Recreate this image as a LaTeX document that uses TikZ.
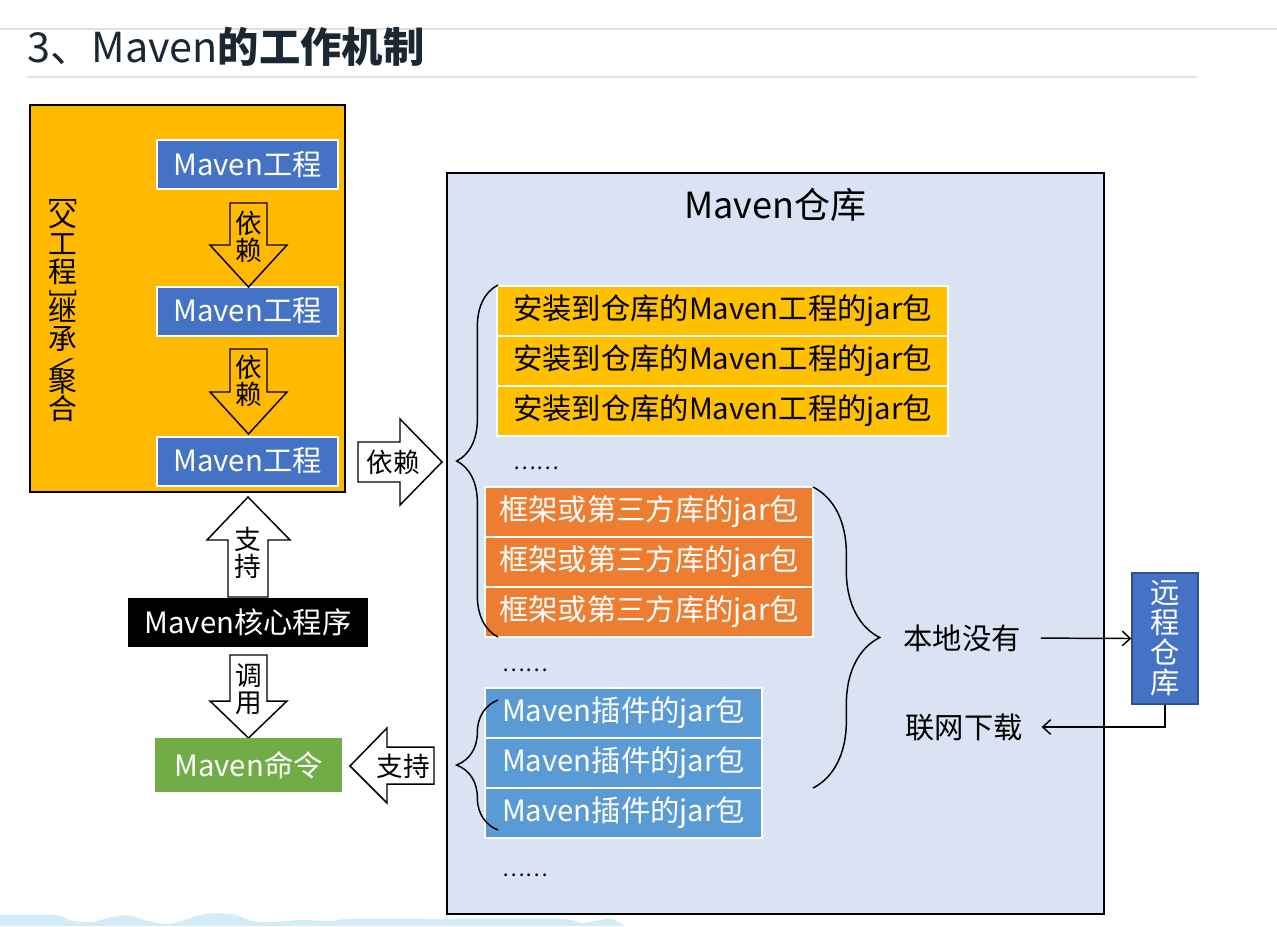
\documentclass[tikz,border=0pt]{standalone}
\usepackage{fontspec}
\setmainfont{Noto Sans CJK SC}
\usetikzlibrary{decorations.pathreplacing,arrows.meta,positioning,calc}
\definecolor{gold}{HTML}{FFB900}
\definecolor{ybox}{HTML}{FFC000}
\definecolor{obox}{HTML}{ED7D31}
\definecolor{bbox}{HTML}{4472C4}
\definecolor{pbox}{HTML}{5B9BD5}
\definecolor{gbox}{HTML}{70AD47}
\definecolor{repo}{HTML}{DAE3F3}
\definecolor{titlec}{HTML}{1B2733}
\definecolor{wave}{HTML}{D2ECF8}
\begin{document}
\begin{tikzpicture}[x=0.75pt,y=-0.75pt,
  every node/.style={inner sep=0pt},
  box/.style={draw=white, line width=1.5pt, text=white, font=\fontsize{22}{24}\selectfont, align=center},
  blockarrow/.style={draw=black, line width=1.1pt, line join=miter},
  arrtext/.style={font=\fontsize{20}{20.5}\selectfont, align=center},
  lbl/.style={font=\fontsize{22}{24}\selectfont},
  vchar/.style={font=\fontsize{21.5}{21.5}\selectfont, text height=15.2pt, text depth=5.3pt},
  mybrace/.style={decorate, decoration={brace, amplitude=#1}, line width=1.1pt},
  thinarrow/.style={line width=1.1pt, -{Straight Barb[length=6pt,width=11pt]}},
]
\useasboundingbox (0,0) rectangle (1277,926);
\fill[white] (0,0) rectangle (1277,926);

% header lines and title
\draw[black!12, line width=1pt] (0,29) -- (1277,29);
\draw[black!10, line width=1pt] (27,77) -- (1197,77);
\node[anchor=base west, text=titlec, font=\fontsize{31}{33}\selectfont] (title) at (27,62) {3、Maven{\bfseries 的工作机制}};

% bottom wave
\fill[wave] plot[smooth] coordinates {(0,915) (55,915) (72,921) (92,922) (112,917) (130,915.5) (148,921) (168,924) (188,919) (205,914) (232,914) (252,921) (275,922) (300,920) (330,921) (350,919) (440,919) (560,919) (580,923) (600,920) (612,919) (625,926)} -- (0,926) -- cycle;

% parent project box
\node[draw=black, fill=gold, line width=1.9pt, minimum width=236.25pt, minimum height=290.25pt] (parent) at (187.5,298.5) {};
\node[box, fill=bbox, minimum width=135.75pt, minimum height=36.75pt] (mp1) at (247.5,164.5) {Maven工程};
\node[box, fill=bbox, minimum width=135.75pt, minimum height=36.75pt] (mp2) at (247.5,311) {Maven工程};
\node[box, fill=bbox, minimum width=135.75pt, minimum height=36.75pt] (mp3) at (247.5,461) {Maven工程};

% vertical label
\node[font=\fontsize{21}{21}\selectfont, anchor=north] (v0) at (63,196) {\rotatebox{-90}{[}};
\node[vchar, below=0pt of v0] (v1) {父};
\node[vchar, below=0pt of v1] (v2) {工};
\node[vchar, below=0pt of v2] (v3) {程};
\node[font=\fontsize{21}{21}\selectfont, below=0pt of v3] (v4) {\rotatebox{-90}{]}};
\node[vchar, below=1pt of v4] (v5) {继};
\node[vchar, below=0pt of v5] (v6) {承};
\node[font=\fontsize{21}{21}\selectfont] (v7) at ($(v6.south)+(0,7)$) {\scalebox{2.2}[0.35]{/}};
\node[vchar, anchor=north] (v8) at ($(v6.south)+(0,14)$) {聚};
\node[vchar, below=0pt of v8] (v9) {合};

% dependency arrows inside parent
\draw[blockarrow, fill=gold] (230,203) -- (230,245) -- (210,245) -- (248.5,287) -- (287,245) -- (267,245) -- (267,203) -- cycle;
\node[arrtext] (d1) at (248.5,237) {依\\赖};
\draw[blockarrow, fill=gold] (230,349) -- (230,392) -- (210,392) -- (248.5,434) -- (287,392) -- (267,392) -- (267,349) -- cycle;
\node[arrtext] (d2) at (248.5,381) {依\\赖};

% core, support, call
\draw[blockarrow, fill=white] (228,597) -- (228,540) -- (207,540) -- (248,497) -- (290,540) -- (268,540) -- (268,597) -- cycle;
\node[arrtext] (s1) at (248,553) {支\\持};
\node[box, fill=black, draw=black, minimum width=178.5pt, minimum height=35.25pt] (core) at (248,622.5) {Maven核心程序};
\draw[blockarrow, fill=white] (230,655) -- (230,701) -- (210,701) -- (248.5,738) -- (287,701) -- (267,701) -- (267,655) -- cycle;
\node[arrtext] (c1) at (248.5,689) {调\\用};
\node[box, fill=gbox, draw=gbox, minimum width=138.75pt, minimum height=39pt] (cmd) at (248.5,765) {Maven命令};

% horizontal block arrows
\draw[blockarrow, fill=white] (358,442) -- (400,442) -- (400,419) -- (442,462) -- (400,505) -- (400,482) -- (358,482) -- cycle;
\node[arrtext] (d3) at (393,462) {依赖};
\draw[blockarrow, fill=white] (434,747) -- (387,747) -- (387,728) -- (350,766) -- (387,803) -- (387,784) -- (434,784) -- cycle;
\node[arrtext] (s2) at (403,766) {支持};

% repository
\node[draw=black, fill=repo, line width=1.9pt, minimum width=492.75pt, minimum height=555.75pt] (repo) at (775.5,543.5) {};
\node[font=\fontsize{27}{30}\selectfont] (repotitle) at (775,205) {Maven仓库};

\node[box, fill=ybox, text=black, minimum width=338.25pt, minimum height=37.5pt] (y1) at (722.5,311) {安装到仓库的Maven工程的jar包};
\node[box, fill=ybox, text=black, minimum width=338.25pt, minimum height=37.5pt] (y2) at (722.5,361) {安装到仓库的Maven工程的jar包};
\node[box, fill=ybox, text=black, minimum width=338.25pt, minimum height=37.5pt] (y3) at (722.5,411) {安装到仓库的Maven工程的jar包};
\node[font=\fontsize{16}{18}\selectfont] (dots1) at (536,468) {……};

\node[box, fill=obox, minimum width=246pt, minimum height=37.5pt] (o1) at (649,512) {框架或第三方库的jar包};
\node[box, fill=obox, minimum width=246pt, minimum height=37.5pt] (o2) at (649,562) {框架或第三方库的jar包};
\node[box, fill=obox, minimum width=246pt, minimum height=37.5pt] (o3) at (649,612) {框架或第三方库的jar包};
\node[font=\fontsize{16}{18}\selectfont] (dots2) at (525,670) {……};

\node[box, fill=pbox, minimum width=207.75pt, minimum height=37.5pt] (p1) at (623.5,713) {Maven插件的jar包};
\node[box, fill=pbox, minimum width=207.75pt, minimum height=37.5pt] (p2) at (623.5,763) {Maven插件的jar包};
\node[box, fill=pbox, minimum width=207.75pt, minimum height=37.5pt] (p3) at (623.5,813) {Maven插件的jar包};
\node[font=\fontsize{16}{18}\selectfont] (dots3) at (525,875) {……};

% braces
\draw[mybrace=31pt] (498,637) -- (498,285);
\draw[mybrace=31pt] (498,830) -- (498,700);
\draw[mybrace=50pt] (813,487) -- (813,788);

% remote repository
\node[lbl] (local) at (962,638) {本地没有};
\node[lbl] (download) at (964,727) {联网下载};
\node[box, fill=bbox, draw=bbox!70!black, line width=1pt, minimum width=49.5pt, minimum height=98.25pt, font=\fontsize{22}{22.5}\selectfont] (remote) at (1165,638.5) {远\\程\\仓\\库};
\draw[thinarrow, shorten <=15pt] (local.east) -- (remote.west);
\draw[thinarrow, shorten >=14pt] (remote.south) |- (download.east);
\end{tikzpicture}
\end{document}
